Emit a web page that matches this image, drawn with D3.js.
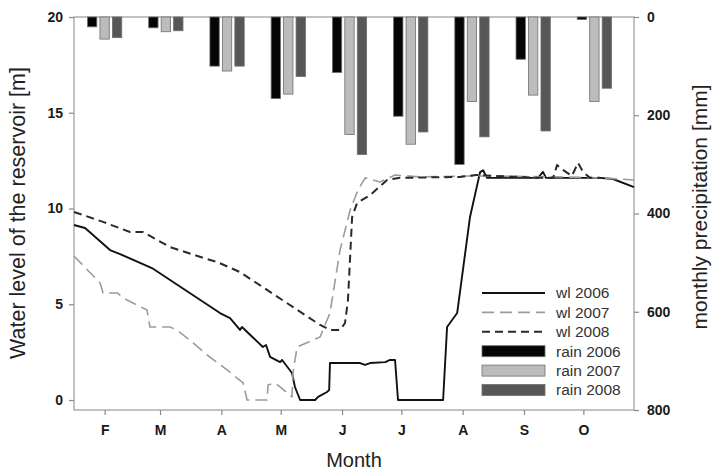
<!DOCTYPE html>
<html>
<head>
<meta charset="utf-8">
<script src="https://cdn.jsdelivr.net/npm/d3@7"></script>
<style>
  body { margin: 0; background: #fff; }
</style>
</head>
<body>
<div id="chart"></div>
<script>
// month groups for the rain bars and tick labels for the month axis
const months = ["Feb", "Mar", "Apr", "May", "Jun", "Jul", "Aug", "Sep", "Oct"];
const monthLabels = ["F", "M", "A", "M", "J", "J", "A", "S", "O"];
const monthStartDays = [31, 59, 90, 120, 151, 181, 212, 243, 273];
const years = ["2006", "2007", "2008"];

// monthly precipitation [mm]
const rain2006 = [20, 22, 100, 166, 113, 202, 300, 86, 5];
const rain2007 = [45, 30, 110, 157, 239, 259, 172, 159, 172];
const rain2008 = [42, 28, 100, 121, 280, 234, 244, 232, 145];

// water level [m] as [day of year, level]
const wl2006 = [[15.5, 9.14], [21.1, 8.98], [33.7, 7.83], [38.8, 7.62], [54.9, 6.89], [89.3, 4.54], [94.4, 4.28],
  [99.4, 3.66], [100.4, 3.81], [111.0, 2.77], [112.6, 2.87], [114.6, 2.25], [119.7, 1.98], [120.7, 2.09],
  [125.7, 1.41], [127.2, 0.68], [129.8, 0], [137.4, 0], [138.9, 0.16], [143.4, 0.42], [144.5, 0.52],
  [144.9, 1.93], [160.1, 1.93], [162.6, 1.83], [165.2, 1.93], [172.8, 1.98], [175.3, 2.09], [177.8, 2.09],
  [179.3, 0], [202.1, 0], [204.1, 3.81], [209.2, 4.54], [215.7, 9.56], [220.8, 11.9], [222.3, 12.0],
  [224.3, 11.6], [250.1, 11.6], [252.6, 11.91], [254.1, 11.6], [281.4, 11.6], [288.0, 11.54], [298.6, 11.12]];
const wl2007 = [[15.5, 7.52], [28.7, 6.11], [30.2, 5.59], [37.3, 5.59], [42.3, 5.22], [52.4, 4.70], [53.9, 3.81],
  [64.0, 3.81], [67.6, 3.66], [75.7, 2.98], [82.8, 2.35], [92.9, 1.57], [101.0, 0.89], [103.0, 0], [113.1, 0],
  [113.6, 0.78], [117.1, 0.89], [119.7, 0.68], [125.7, 0.16], [126.2, 1.41], [128.3, 2.77], [139.9, 3.29],
  [144.9, 4.54], [150.0, 7.83], [155.1, 9.92], [159.1, 10.97], [162.7, 11.6], [170.2, 11.38], [177.8, 11.75],
  [190.4, 11.65], [215.7, 11.7], [261.2, 11.65], [281.4, 11.6], [298.6, 11.49]];
const wl2008 = [[15.5, 9.82], [30.2, 9.30], [43.8, 8.77], [50.4, 8.77], [64.0, 7.99], [80.8, 7.42], [87.8, 7.21],
  [99.4, 6.68], [139.9, 3.92], [144.9, 3.66], [150.0, 3.66], [152.5, 4.02], [154.0, 5.22], [156.1, 9.56],
  [158.6, 10.29], [165.2, 10.70], [173.8, 11.49], [180.3, 11.6], [210.7, 11.65], [218.8, 11.75], [251.1, 11.6],
  [257.7, 11.6], [259.7, 12.27], [261.2, 12.12], [267.2, 11.7], [270.3, 12.38], [272.8, 11.91], [276.4, 11.6],
  [281.4, 11.6]];

const width = 712, height = 473;
const margin = { top: 17, right: 78, bottom: 63, left: 74 };
const plotRight = width - margin.right;
const plotBottom = height - margin.bottom;

const svg = d3.select("#chart")
  .append("svg")
  .attr("width", width)
  .attr("height", height)
  .style("font-family", "'Liberation Sans', Arial, sans-serif");

const x = d3.scaleLinear().domain([15.5, 298.6]).range([margin.left, plotRight]);
const yLevel = d3.scaleLinear().domain([0, 20]).range([400, margin.top]);
const yRain = d3.scaleLinear().domain([0, 800]).range([margin.top, plotBottom]);

const xBand = d3.scaleBand().domain(months).range([margin.left, 625]);
const xYear = d3.scaleBand().domain(years)
  .range([xBand.bandwidth() * 0.22, xBand.bandwidth() * 0.78])
  .paddingInner(0.25);

const rainColor = { "2006": "#050505", "2007": "#bcbcbc", "2008": "#575757" };
const rainData = { "2006": rain2006, "2007": rain2007, "2008": rain2008 };

// frame
svg.append("rect")
  .attr("x", margin.left)
  .attr("y", margin.top)
  .attr("width", plotRight - margin.left)
  .attr("height", plotBottom - margin.top)
  .attr("fill", "none")
  .attr("stroke", "#9a9a9a")
  .attr("stroke-width", 1.2);

// bars hanging from top
years.forEach(yr => {
  svg.append("g")
    .selectAll("rect")
    .data(months)
    .join("rect")
    .attr("x", (m) => xBand(m) + xYear(yr))
    .attr("y", yRain(0))
    .attr("width", xYear.bandwidth())
    .attr("height", (m, i) => yRain(rainData[yr][i]) - yRain(0))
    .attr("fill", rainColor[yr])
    .attr("stroke", "#6e6e6e")
    .attr("stroke-width", 0.8);
});

// axes
const axisStyle = (g) => {
  g.select(".domain").remove();
  g.selectAll(".tick line").attr("stroke", "#8a8a8a").attr("stroke-width", 1.2);
  g.selectAll(".tick text")
    .attr("fill", "#1a1a1a")
    .attr("font-size", "14px")
    .attr("font-weight", "bold");
};

svg.append("g")
  .attr("transform", `translate(${margin.left},0)`)
  .call(d3.axisLeft(yLevel).tickValues([0, 5, 10, 15, 20]).tickSize(5).tickPadding(6))
  .call(axisStyle);

svg.append("g")
  .attr("transform", `translate(${plotRight},0)`)
  .call(d3.axisRight(yRain).tickValues([0, 200, 400, 600, 800]).tickSize(5).tickPadding(8))
  .call(axisStyle);

svg.append("g")
  .attr("transform", `translate(0,${plotBottom})`)
  .call(d3.axisBottom(x).tickValues(monthStartDays).tickFormat((d, i) => monthLabels[i]).tickSize(5).tickPadding(10))
  .call(axisStyle);

// water level lines
const line = d3.line()
  .x(d => x(d[0]))
  .y(d => yLevel(d[1]));

const lineSeries = [
  { name: "wl 2006", data: wl2006, color: "#111", width: 1.9, dash: null },
  { name: "wl 2007", data: wl2007, color: "#9c9c9c", width: 1.6, dash: "12,6" },
  { name: "wl 2008", data: wl2008, color: "#2a2a2a", width: 2, dash: "8,5" }
];

svg.append("g")
  .selectAll("path")
  .data(lineSeries)
  .join("path")
  .attr("d", d => line(d.data))
  .attr("fill", "none")
  .attr("stroke", d => d.color)
  .attr("stroke-width", d => d.width)
  .attr("stroke-dasharray", d => d.dash)
  .attr("stroke-linejoin", "round");

// legend
const legend = svg.append("g").attr("transform", "translate(482,293)");
const rowH = 19.4;

lineSeries.forEach((s, i) => {
  legend.append("line")
    .attr("x1", 0).attr("x2", 63)
    .attr("y1", i * rowH).attr("y2", i * rowH)
    .attr("stroke", s.color)
    .attr("stroke-width", s.width)
    .attr("stroke-dasharray", s.dash);
});
years.forEach((yr, i) => {
  legend.append("rect")
    .attr("x", 0)
    .attr("y", (i + 3) * rowH - 5.5)
    .attr("width", 63)
    .attr("height", 11)
    .attr("fill", rainColor[yr])
    .attr("stroke", "#6e6e6e")
    .attr("stroke-width", 0.8);
});
const legendNames = lineSeries.map(s => s.name).concat(years.map(yr => "rain " + yr));
legend.selectAll("text.lab")
  .data(legendNames)
  .join("text")
  .attr("class", "lab")
  .attr("x", 74)
  .attr("y", (d, i) => i * rowH)
  .attr("dy", "0.35em")
  .attr("font-size", "15.5px")
  .attr("fill", "#333")
  .text(d => d);

// axis titles
svg.append("text")
  .attr("transform", "translate(25,213) rotate(-90)")
  .attr("text-anchor", "middle")
  .attr("font-size", "21.5px")
  .attr("fill", "#222")
  .text("Water level of the reservoir [m]");

svg.append("text")
  .attr("transform", "translate(707,207) rotate(-90)")
  .attr("text-anchor", "middle")
  .attr("font-size", "21px")
  .attr("fill", "#222")
  .text("monthly precipitation [mm]");

svg.append("text")
  .attr("x", (margin.left + plotRight) / 2)
  .attr("y", 467)
  .attr("text-anchor", "middle")
  .attr("font-size", "20px")
  .attr("fill", "#222")
  .text("Month");
</script>
</body>
</html>
